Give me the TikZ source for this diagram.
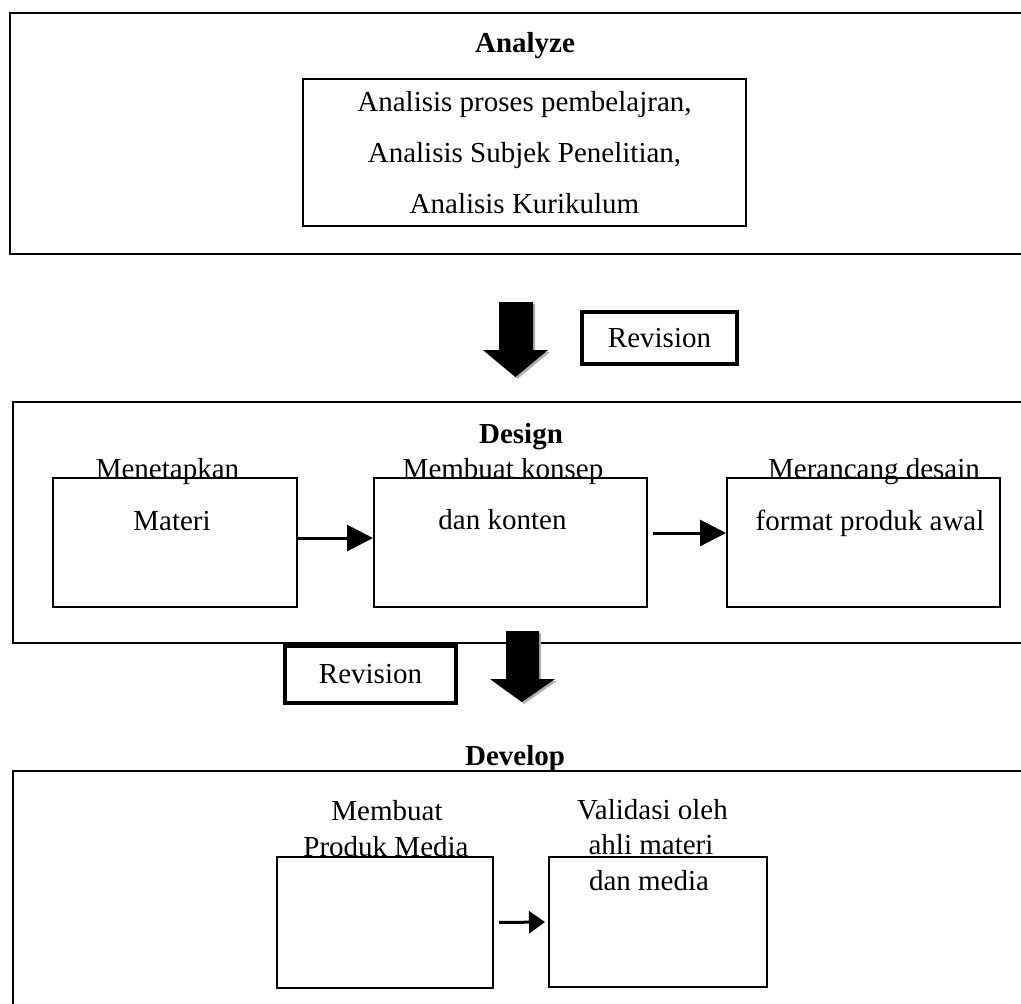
\documentclass[tikz,border=0pt]{standalone}
\usepackage{fontspec}
\setmainfont{Liberation Serif}
\usetikzlibrary{arrows.meta}

\begin{document}
\begin{tikzpicture}[x=0.5pt,y=-0.5pt,
  every node/.style={font=\fontsize{14.5}{17}\selectfont, inner sep=0pt},
  frame/.style={draw, line width=1.3pt},
  title/.style={anchor=base, font=\fontsize{14.5}{17}\selectfont\bfseries},
  label/.style={anchor=base},
  task/.style={draw, line width=1pt, minimum height=64.5pt},
  revbox/.style={draw, line width=1.8pt},
  flow/.style={line width=1.5pt, -{Triangle[length=13pt,width=13pt]}},
  smallflow/.style={line width=1.5pt, -{Triangle[length=8pt,width=11pt]}}]
\useasboundingbox (0,0) rectangle (1021,1003);
\clip (0,0) rectangle (1021,1003);

% Analyze
\draw [frame] (10,13) rectangle (1040,254);
\node [title] (analyze) at (525,52) {Analyze};
\node [draw, line width=1pt, minimum width=221.5pt, minimum height=73.5pt,
  align=center, font=\fontsize{14.5}{25.5}\selectfont] (list) at (524.5,152.5)
  {Analisis proses pembelajran,\\Analisis Subjek Penelitian,\\Analisis Kurikulum};

% down arrow and revision
\fill [gray!60] (501,304) -- (535,304) -- (535,352) -- (550,352) -- (517.5,379) -- (485,352) -- (501,352) -- cycle;
\fill [black] (499,302) -- (533,302) -- (533,350) -- (548,350) -- (515.5,377) -- (483,350) -- (499,350) -- cycle;
\node [revbox, minimum width=77.5pt, minimum height=26pt] (rev1) at (659.5,338) {Revision};

% Design
\draw [frame] (13,402) rectangle (1040,643);
\node [title] (design) at (521,443) {Design};
\node [task, minimum width=122pt] (m1) at (175,542.5) {};
\node [task, minimum width=136.5pt] (m2) at (510.5,542.5) {};
\node [task, minimum width=136.5pt] (m3) at (863.5,542.5) {};
\node [label] (m1a) at (167.5,478) {Menetapkan};
\node [label] (m1b) at (172,530) {Materi};
\node [label] (m2a) at (503,478) {Membuat konsep};
\node [label] (m2b) at (502.5,529) {dan konten};
\node [label] (m3a) at (874,478) {Merancang desain};
\node [label] (m3b) at (870,530) {format produk awal};
\draw [flow] ([yshift=2.25pt]m1.east) -- ([yshift=2.25pt]m2.west);
\draw [flow, shorten <=2.5pt] ([yshift=4.75pt]m2.east) -- ([yshift=4.75pt]m3.west);

% revision and down arrow
\node [revbox, minimum width=85.5pt, minimum height=28.5pt] (rev2) at (370.5,674.5) {Revision};
\fill [gray!60] (508,633) -- (541,633) -- (541,681) -- (557,681) -- (524,704) -- (492,681) -- (508,681) -- cycle;
\fill [black] (506,631) -- (539,631) -- (539,679) -- (555,679) -- (522,702) -- (490,679) -- (506,679) -- cycle;

% Develop
\node [title] (develop) at (515,765) {Develop};
\draw [frame] (13,771) rectangle (1040,1040);
\node [task, minimum width=108pt, minimum height=65.5pt] (d1) at (385,922.5) {};
\node [task, minimum width=109pt, minimum height=65pt] (d2) at (658,922) {};
\node [label] (d1a) at (387,820) {Membuat};
\node [label] (d1b) at (386,856) {Produk Media};
\node [label] (d2a) at (652.5,819) {Validasi oleh};
\node [label] (d2b) at (651,854) {ahli materi};
\node [label] (d2c) at (649,890) {dan media};
\draw [smallflow, shorten <=2.5pt, shorten >=1.5pt] (d1.east) -- (d2.west);
\end{tikzpicture}
\end{document}
